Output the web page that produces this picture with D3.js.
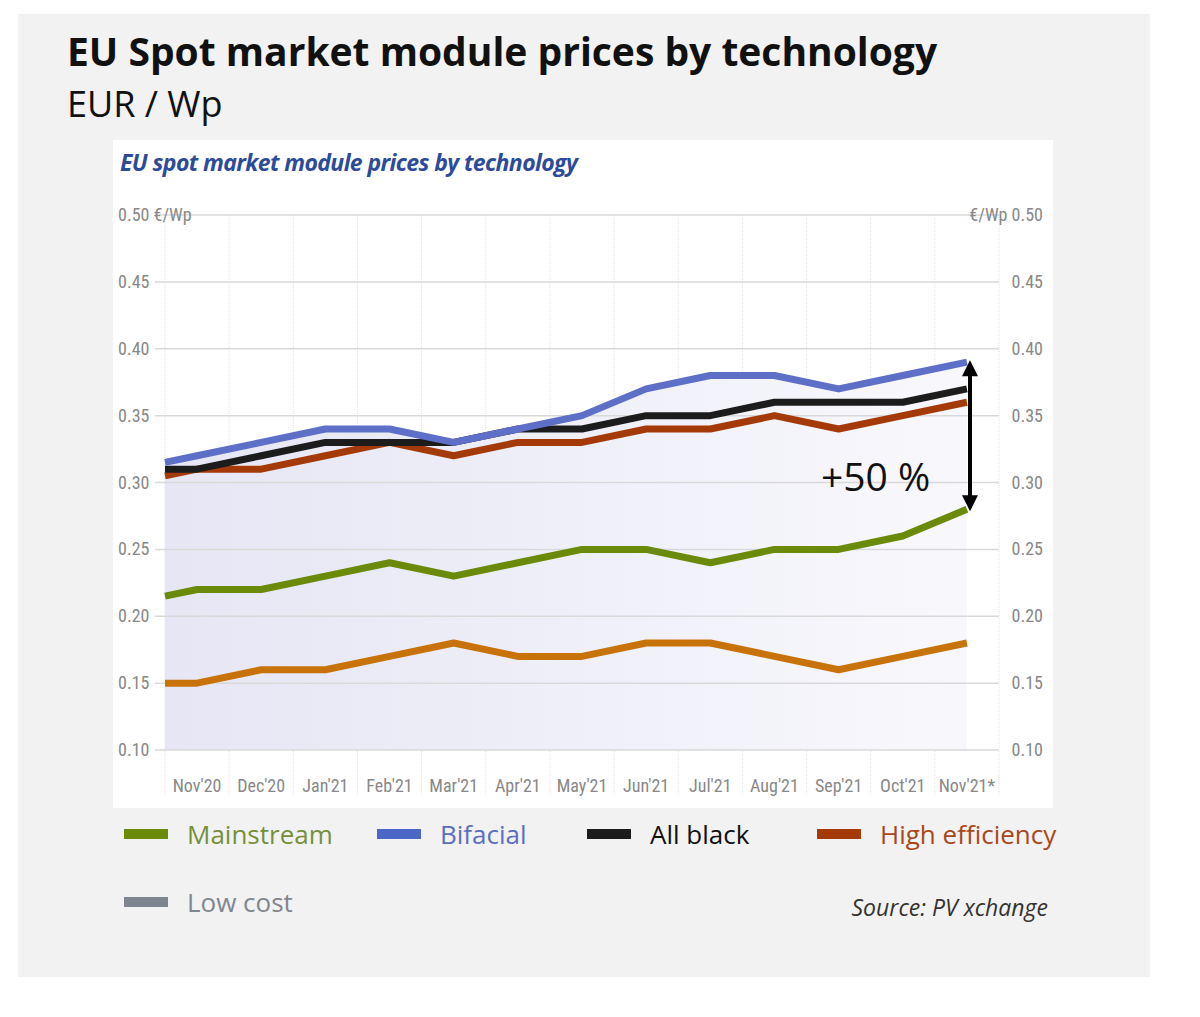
<!DOCTYPE html>
<html><head><meta charset="utf-8">
<script src="https://cdn.jsdelivr.net/npm/d3@7"></script>
<style>body{margin:0;background:#fff;}</style>
</head><body>
<script>
// months; first value is the left-edge start point (index -0.5)
var months = ["Nov'20","Dec'20","Jan'21","Feb'21","Mar'21","Apr'21","May'21","Jun'21","Jul'21","Aug'21","Sep'21","Oct'21","Nov'21*"];
var xIdx = [-0.5,0,1,2,3,4,5,6,7,8,9,10,11,12];
var mainstream = [.215,.22,.22,.23,.24,.23,.24,.25,.25,.24,.25,.25,.26,.28];
var bifacial   = [.315,.32,.33,.34,.34,.33,.34,.35,.37,.38,.38,.37,.38,.39];
var allBlack   = [.31,.31,.32,.33,.33,.33,.34,.34,.35,.35,.36,.36,.36,.37];
var highEff    = [.305,.31,.31,.32,.33,.32,.33,.33,.34,.34,.35,.34,.35,.36];
var lowCost    = [.15,.15,.16,.16,.17,.18,.17,.17,.18,.18,.17,.16,.17,.18];
var yTicks = [0.10,0.15,0.20,0.25,0.30,0.35,0.40,0.45,0.50];

var svg = d3.select("body").append("svg").attr("width",1200).attr("height",1017);
svg.append("rect").attr("x",18).attr("y",14).attr("width",1132).attr("height",963).attr("fill","#f2f2f2");
svg.append("text").attr("x",67).attr("y",66).attr("font-family","'Open Sans',sans-serif")
  .attr("font-weight","bold").attr("font-size",39).attr("fill","#111").text("EU Spot market module prices by technology");
svg.append("text").attr("x",67).attr("y",117).attr("font-family","'Open Sans',sans-serif")
  .attr("font-size",36).attr("fill","#111").text("EUR / Wp");

svg.append("rect").attr("x",113).attr("y",140).attr("width",940).attr("height",668).attr("fill","#fff");
svg.append("text").attr("x",120).attr("y",171).attr("font-family","'Open Sans',sans-serif")
  .attr("font-style","italic").attr("font-weight","bold").attr("font-size",23).attr("letter-spacing",-0.6)
  .attr("fill","#2d4b9b").text("EU spot market module prices  by technology");

var x = d3.scaleLinear().domain([-0.5,12.5]).range([165,999]);
var y = d3.scaleLinear().domain([0.10,0.50]).range([750,215]);
var cond = "'Liberation Sans Narrow','Roboto Condensed',sans-serif";

var defs = svg.append("defs");
var g = defs.append("linearGradient").attr("id","fade");
g.append("stop").attr("offset","0").attr("stop-color","#e6e6f5");
g.append("stop").attr("offset","1").attr("stop-color","#f8f8fc");

// vertical grid
d3.range(-0.5,13,1).forEach(function(v){
  svg.append("line").attr("x1",x(v)).attr("x2",x(v)).attr("y1",y(0.5)).attr("y2",y(0.1)+45)
    .attr("stroke","#e2e2e2").attr("stroke-dasharray","1,1");
});
// area under bifacial
var pts = xIdx.map(function(v,i){return [v,bifacial[i]];});
svg.append("path").datum(pts).attr("fill","url(#fade)")
  .attr("d",d3.area().x(function(d){return x(d[0]);}).y0(y(0.10)).y1(function(d){return y(d[1]);}));
// horizontal grid + labels
yTicks.forEach(function(t){
  svg.append("line").attr("x1",x(-0.5)-10).attr("x2",x(12.5)).attr("y1",y(t)).attr("y2",y(t)).attr("stroke","#d9d9d9").attr("stroke-width",1.5);
  svg.append("text").attr("x",118).attr("y",y(t)+6).attr("font-family",cond).attr("font-size",18).attr("fill","#888")
    .text(t.toFixed(2)+(t==0.5?" €/Wp":""));
  svg.append("text").attr("x",1043).attr("y",y(t)+6).attr("text-anchor","end").attr("font-family",cond).attr("font-size",18).attr("fill","#888")
    .text((t==0.5?"€/Wp ":"")+t.toFixed(2));
});
months.forEach(function(m,i){
  svg.append("text").attr("x",x(i)).attr("y",792).attr("text-anchor","middle").attr("font-family",cond)
    .attr("font-size",18).attr("fill","#888").text(m);
});

var line = d3.line().x(function(d){return x(d[0]);}).y(function(d){return y(d[1]);});
[[lowCost,"#c8730a"],[mainstream,"#6b8a0a"],[highEff,"#a43a08"],[allBlack,"#1c1c1c"],[bifacial,"#5d6fc6"]].forEach(function(s){
  svg.append("path").datum(xIdx.map(function(v,i){return [v,s[0][i]];}))
    .attr("fill","none").attr("stroke",s[1]).attr("stroke-width",7).attr("stroke-linejoin","round").attr("d",line);
});

// +50% arrow
var ax = x(12.5)-29;
svg.append("line").attr("x1",ax).attr("x2",ax).attr("y1",y(0.39)+10).attr("y2",y(0.28)-10).attr("stroke","#000").attr("stroke-width",4);
svg.append("path").attr("d","M"+ax+","+(y(0.39)-2)+"l-8,16h16z").attr("fill","#000");
svg.append("path").attr("d","M"+ax+","+(y(0.28)+2)+"l-8,-16h16z").attr("fill","#000");
svg.append("text").attr("x",821).attr("y",491).attr("font-family","'Open Sans',sans-serif").attr("font-size",39).attr("fill","#111").text("+50 %");

// legend
var legend = [["Mainstream","#6b8a0a","#76903a",124,834],["Bifacial","#4a66c6","#5b6fc0",377,834],
  ["All black","#1c1c1c","#111",587,834],["High efficiency","#a43a08","#a8481a",817,834],["Low cost","#7e858e","#80868e",124,902]];
legend.forEach(function(l){
  svg.append("rect").attr("x",l[3]).attr("y",l[4]-5).attr("width",44).attr("height",10).attr("fill",l[1]);
  svg.append("text").attr("x",l[3]+63).attr("y",l[4]+10).attr("font-family","'Open Sans',sans-serif").attr("font-size",26).attr("fill",l[2]).text(l[0]);
});
svg.append("text").attr("x",1048).attr("y",916).attr("text-anchor","end").attr("font-family","'Open Sans',sans-serif")
  .attr("font-style","italic").attr("font-size",23).attr("fill","#333").text("Source: PV xchange");
</script>
</body></html>
